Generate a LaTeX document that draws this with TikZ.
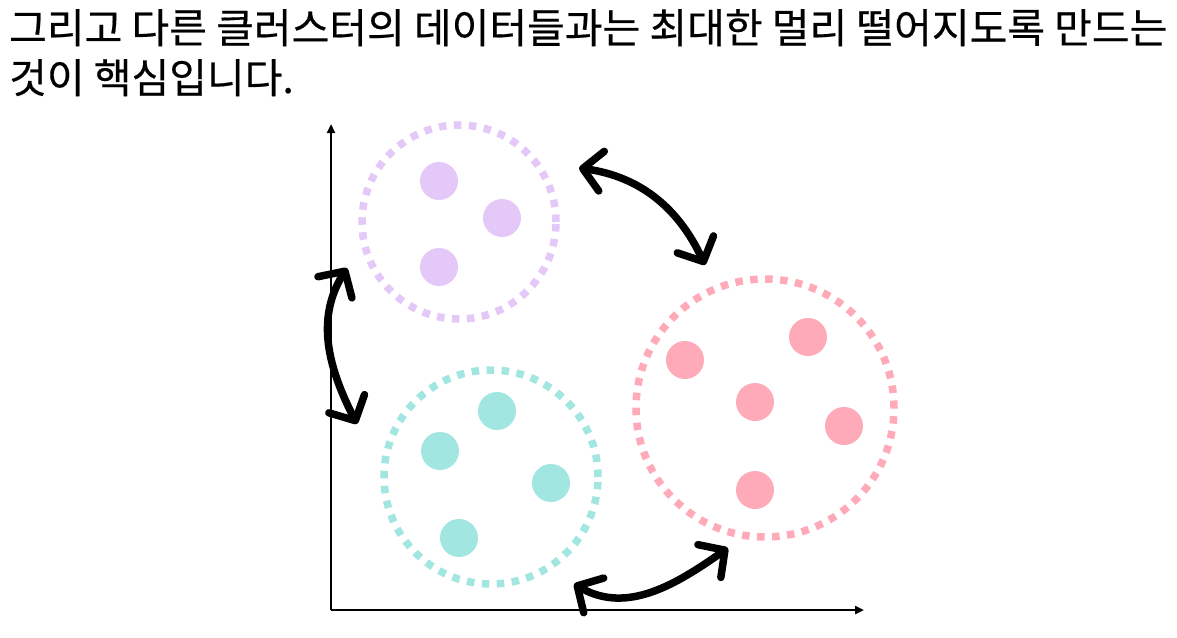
\documentclass[tikz,border=0pt]{standalone}
\usepackage{fontspec}
\setmainfont{Noto Sans CJK KR}[FakeBold=0.4]
\usetikzlibrary{arrows.meta}
\definecolor{cpurple}{HTML}{E4C8F8}
\definecolor{cpink}{HTML}{FFAAB8}
\definecolor{cteal}{HTML}{A2E6E1}
\tikzset{
  clusterring/.style={circle, draw=#1, line width=7.5pt, dash pattern=on 7.5pt off 7.5pt, minimum size=0pt, inner sep=0pt},
  datadot/.style={circle, fill=#1, minimum size=38pt, inner sep=0pt},
  axisline/.style={line width=2.8pt, -{Triangle[length=9pt,width=8pt]}},
  farrow/.style={line width=7.5pt, line cap=round, line join=round,
     {Straight Barb[length=19pt,width=40pt,round]}-{Straight Barb[length=19pt,width=40pt,round]}},
  caption/.style={anchor=base west, inner sep=0pt, font=\fontsize{41pt}{49pt}\selectfont}
}
\begin{document}
\begin{tikzpicture}[x=1pt,y=1pt]
\useasboundingbox (0,0) rectangle (1177,-637);
% text
\node[caption] (t1) at (9,-43) {그리고 다른 클러스터의 데이터들과는 최대한 멀리 떨어지도록 만드는};
\node[caption] (t2) at (9,-93) {것이 핵심입니다.};
% axes
\coordinate (o) at (331,-610);
\coordinate (ytop) at (331,-124);
\coordinate (xend) at (864,-610);
\draw[axisline] (o) -- (ytop);
\draw[axisline] (o) -- (xend);
% clusters
\node[clusterring=cpurple, minimum size=194pt] (pc) at (459,-222) {};
\node[clusterring=cpink, minimum size=258pt] (rc) at (765,-408) {};
\node[clusterring=cteal, minimum size=214pt] (tc) at (491,-477) {};
% dots
\node[datadot=cpurple] (p1) at (439,-181) {};
\node[datadot=cpurple] (p2) at (502,-218) {};
\node[datadot=cpurple] (p3) at (439,-267) {};
\node[datadot=cpink] (r1) at (685,-360) {};
\node[datadot=cpink] (r2) at (808,-337) {};
\node[datadot=cpink] (r3) at (755,-402) {};
\node[datadot=cpink] (r4) at (844,-426) {};
\node[datadot=cpink] (r5) at (755,-490) {};
\node[datadot=cteal] (c1) at (497,-411) {};
\node[datadot=cteal] (c2) at (440,-451) {};
\node[datadot=cteal] (c3) at (551,-483) {};
\node[datadot=cteal] (c4) at (459,-538) {};
% double arrows
\coordinate (a1s) at (579,-168);
\coordinate (a1e) at (705,-265);
\coordinate (a2s) at (347,-268);
\coordinate (a2e) at (357,-424);
\coordinate (a3s) at (574,-584);
\coordinate (a3e) at (728,-548);
\draw[farrow] (a1s) to[out=-8, in=115] (a1e);
\draw[farrow] (a2s) to[out=238, in=117] (a2e);
\draw[farrow] (a3s) to[out=-30, in=215] (a3e);
\end{tikzpicture}
\end{document}
